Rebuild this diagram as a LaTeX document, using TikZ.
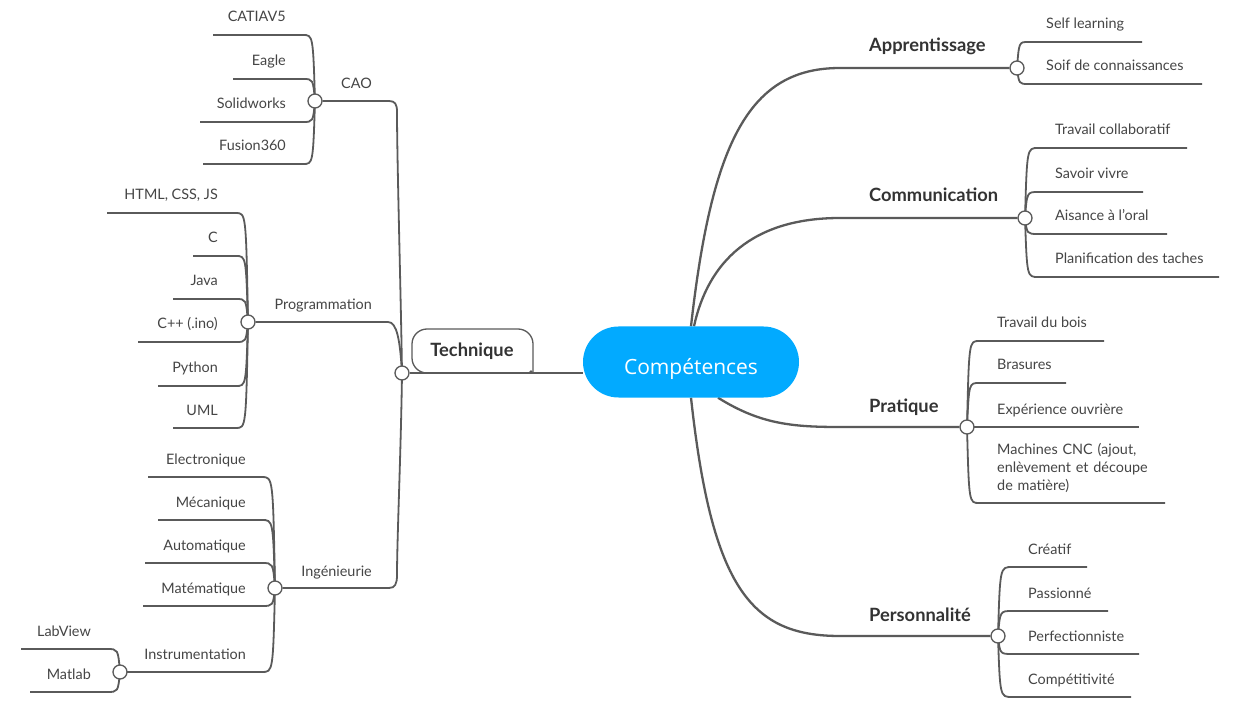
\documentclass[tikz,border=0pt]{standalone}
\usepackage{fontspec}
\setmainfont{Lato}
\newfontfamily\rootfont{Open Sans}
\usetikzlibrary{shapes.misc,backgrounds}
\definecolor{lc}{HTML}{5A5A5A}
\definecolor{tc}{HTML}{454545}
\definecolor{bc}{HTML}{333333}
\definecolor{rootblue}{RGB}{2,170,255}
\tikzset{
  conn/.style={draw=lc, line width=1.8pt},
  mainconn/.style={draw=lc, line width=2.3pt},
  leaf/.style={font=\fontsize{14.4}{18}\selectfont, text=tc, inner sep=0pt},
  branch/.style={font=\fontsize{18.3}{21}\selectfont\bfseries, text=bc, inner sep=0pt},
  sub/.style={font=\fontsize{14.4}{18}\selectfont, text=tc, inner sep=0pt},
  dot/.style={circle, draw=lc, fill=white, line width=1.3pt, minimum size=14pt, inner sep=0pt},
  root/.style={rounded rectangle, fill=rootblue, text=white, font=\rootfont\fontsize{21}{24}\selectfont, minimum width=216pt, minimum height=71pt, inner sep=0pt, text height=24pt, text depth=0pt},
}
% left leaf: #1 name, #2 parent, #3 ctrl x, #4 line y, #5 inner x, #6 outer x, #7 text
\newcommand\Lleaf[7]{%
  \node[leaf,anchor=base east] (#1) at (\Ltx,#4-13) {#7};
  \coordinate (#1i) at (#5,#4);
  \coordinate (#1o) at (#6,#4);
  \begin{pgfonlayer}{background}
  \draw[conn] (#2.center) .. controls (#3,#4) .. (#1i) -- (#1o);
  \end{pgfonlayer}}
\newcommand\Rleaf[7]{%
  \node[leaf,anchor=base west] (#1) at (\Rtx,#4-13) {#7};
  \coordinate (#1i) at (#5,#4);
  \coordinate (#1o) at (#6,#4);
  \begin{pgfonlayer}{background}
  \draw[conn] (#2.center) .. controls (#3,#4) .. (#1i) -- (#1o);
  \end{pgfonlayer}}
\begin{document}
\begin{tikzpicture}[x=1pt,y=-1pt]
\useasboundingbox (0,0) rectangle (1248,703);
\begin{pgfonlayer}{background}
\fill[white] (0,0) rectangle (1248,703);
\end{pgfonlayer}

% root
\node[root] (root) at (691,362) {Compétences};

% right main branches
\node[branch,anchor=base west] (app) at (869,52) {Apprentissage};
\node[dot] (appd) at (1017,68) {};
\node[branch,anchor=base west] (com) at (869,202) {Communication};
\node[dot] (comd) at (1025,218) {};
\node[branch,anchor=base west] (pra) at (869,412) {Pratique};
\node[dot] (prad) at (967,427) {};
\node[branch,anchor=base west] (per) at (869,621) {Personnalité};
\node[dot] (perd) at (998,636) {};

\begin{pgfonlayer}{background}
\draw[mainconn] (root.north) .. controls (712,140) and (750,68) .. (840,68) -- (appd);
\draw[mainconn] ([xshift=3pt]root.north) .. controls (708,262) and (752,218) .. (840,218) -- (comd);
\draw[mainconn] ([xshift=27pt]root.south) .. controls (760,424) and (792,427) .. (840,427) -- (prad);
\draw[mainconn] (root.south) .. controls (712,590) and (752,636) .. (840,636) -- (perd);
\end{pgfonlayer}

% Technique
\node[dot] (techd) at (402,373) {};
\node[branch] (tech) at (472,351) {Technique};
\draw[draw=lc, line width=1.3pt, rounded corners=15pt] (533,373) -- (533,329) -- (412,329) -- (412,373) -- (533,373);
\fill[lc] (531,372) circle (1.8pt);
\begin{pgfonlayer}{background}
\draw[conn] (techd) -- (root.west |- techd);
\end{pgfonlayer}

% sub-branches
\node[sub,anchor=base east] (cao) at (372,89) {CAO};
\node[dot] (caod) at (315,101) {};
\node[sub,anchor=base east] (prog) at (372,310) {Programmation};
\node[dot] (progd) at (248,322) {};
\node[sub,anchor=base east] (ing) at (372,576) {Ingénieurie};
\node[dot] (ingd) at (275,588) {};
\node[dot] (instrd) at (120,672) {};
\begin{pgfonlayer}{background}
\draw[conn] (techd.center) .. controls (401,300) and (397,160) .. (397,112) .. controls (397,104) and (395,101) .. (389,101) -- (caod);
\draw[conn] (techd.center) .. controls (400,340) and (397,322) .. (388,322) -- (progd);
\draw[conn] (techd.center) .. controls (401,450) and (397,540) .. (397,575) .. controls (397,584) and (395,588) .. (389,588) -- (ingd);
\end{pgfonlayer}

% CAO leaves
\def\Ltx{286}
\Lleaf{catia}{caod}{313}{35}{303}{213}{CATIAV5}
\Lleaf{eagle}{caod}{313}{79}{303}{233}{Eagle}
\Lleaf{solid}{caod}{313}{122}{303}{200}{Solidworks}
\Lleaf{fusion}{caod}{313}{164}{303}{203}{Fusion360}

% Programmation leaves
\def\Ltx{218}
\Lleaf{html}{progd}{246}{213}{236}{107}{HTML, CSS, JS}
\Lleaf{clang}{progd}{246}{256}{236}{193}{C}
\Lleaf{java}{progd}{246}{299}{236}{173}{Java}
\Lleaf{cpp}{progd}{246}{342}{236}{138}{C++ (.ino)}
\Lleaf{python}{progd}{246}{386}{236}{158}{Python}
\Lleaf{uml}{progd}{246}{428}{236}{173}{UML}

% Ingenieurie leaves
\def\Ltx{246}
\Lleaf{elec}{ingd}{273}{477}{262}{148}{Electronique}
\Lleaf{meca}{ingd}{273}{520}{262}{158}{Mécanique}
\Lleaf{auto}{ingd}{273}{563}{262}{145}{Automatique}
\Lleaf{math}{ingd}{273}{606}{262}{143}{Matématique}
\Lleaf{instr}{ingd}{273}{672}{262}{120}{Instrumentation}

% Instrumentation leaves
\def\Ltx{91}
\Lleaf{labview}{instrd}{118}{649}{107}{21}{LabView}
\Lleaf{matlab}{instrd}{118}{692}{107}{30}{Matlab}

% Apprentissage leaves
\def\Rtx{1046}
\Rleaf{self}{appd}{1019}{42}{1028}{1142}{Self learning}
\Rleaf{soif}{appd}{1019}{84}{1028}{1202}{Soif de connaissances}

% Communication leaves
\def\Rtx{1055}
\Rleaf{trav}{comd}{1027}{148}{1038}{1187}{Travail collaboratif}
\Rleaf{savoir}{comd}{1027}{192}{1038}{1143}{Savoir vivre}
\Rleaf{aisance}{comd}{1027}{234}{1038}{1167}{Aisance à l'oral}
\Rleaf{plan}{comd}{1027}{277}{1038}{1219}{Planification des taches}

% Pratique leaves
\def\Rtx{997}
\Rleaf{bois}{prad}{969}{341}{979}{1104}{Travail du bois}
\Rleaf{bras}{prad}{969}{383}{979}{1066}{Brasures}
\Rleaf{exp}{prad}{972}{427}{976}{1139}{Expérience ouvrière}
\node[leaf,anchor=base west,text width=180pt,align=left] (cnc) at (997,454) {Machines CNC (ajout,\\enlèvement et découpe\\de matière)};
\coordinate (cnci) at (979,503);
\coordinate (cnco) at (1165,503);
\begin{pgfonlayer}{background}
\draw[conn] (prad.center) .. controls (969,503) .. (cnci) -- (cnco);
\end{pgfonlayer}

% Personnalite leaves
\def\Rtx{1028}
\Rleaf{crea}{perd}{1000}{567}{1012}{1087}{Créatif}
\Rleaf{pass}{perd}{1000}{611}{1012}{1108}{Passionné}
\Rleaf{perf}{perd}{1000}{654}{1012}{1139}{Perfectionniste}
\Rleaf{compet}{perd}{1000}{697}{1012}{1131}{Compétitivité}
\end{tikzpicture}
\end{document}
